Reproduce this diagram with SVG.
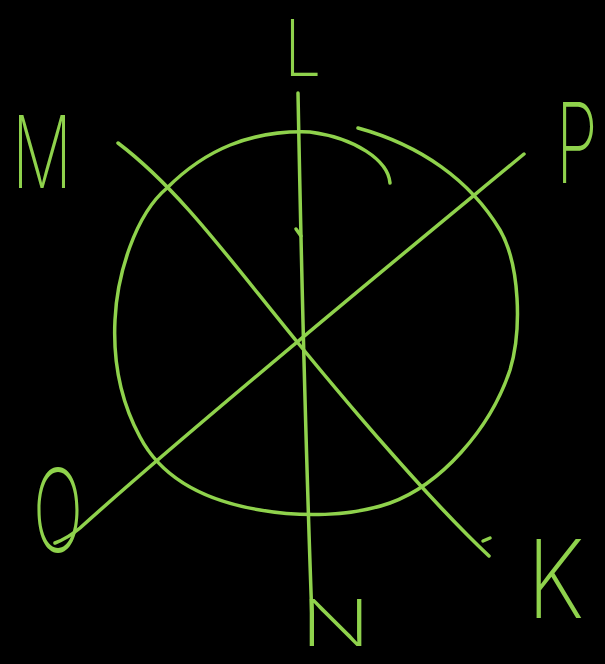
<svg xmlns="http://www.w3.org/2000/svg" width="605" height="664" viewBox="0 0 605 664">
  <style>
    .ln { fill: none; stroke: #8fd24c; stroke-width: 3.5; stroke-linecap: round; stroke-linejoin: round; }
    .lb { fill: #8fd24c; font-family: "Inter", "DejaVu Sans", sans-serif; font-weight: 200; }
  </style>
  <rect width="605" height="664" fill="#000"/>
  <g id="connectors">
    <path id="circle" class="ln" d="M358,128 C 420,145 470,180 500,230 C 520,265 522,330 510,370 C 490,430 440,485 390,503 C 350,517 300,517 260,510 C 200,500 160,475 140,437 C 120,400 113,360 115,320 C 117,275 135,215 167,188 C 205,150 250,130 310,132 C 355,138 388,160 390,183"/>
    <path id="line-L-N" class="ln" d="M298,93 C 301,250 304,400 312,620"/>
    <path class="ln" d="M296,229 L301,236"/>
    <path id="line-M-K" class="ln" d="M118,143 C 180,190 230,260 298,343 S 440,510 489,556"/>
    <path class="ln" d="M483,541 L490,538"/>
    <path id="line-P-O" class="ln" d="M524,154 C 420,240 200,420 80,528 Q 68,538 55,543"/>
  </g>
  <g id="node-L"><text class="lb" transform="translate(284,76) scale(0.85,1)" font-size="78">L</text></g>
  <g id="node-M"><text class="lb" x="12" y="188" font-size="100" textLength="60" lengthAdjust="spacingAndGlyphs">M</text></g>
  <g id="node-P"><text class="lb" transform="translate(556,183) scale(0.6,1)" font-size="112">P</text></g>
  <g id="node-O"><text class="lb" x="33" y="552" font-size="115" textLength="50" lengthAdjust="spacingAndGlyphs">O</text></g>
  <g id="node-K"><text class="lb" transform="translate(527,618) scale(0.85,1)" font-size="108">K</text></g>
  <g id="node-N"><text class="lb" transform="translate(300,646) scale(1.45,1)" font-size="64">N</text></g>
</svg>
